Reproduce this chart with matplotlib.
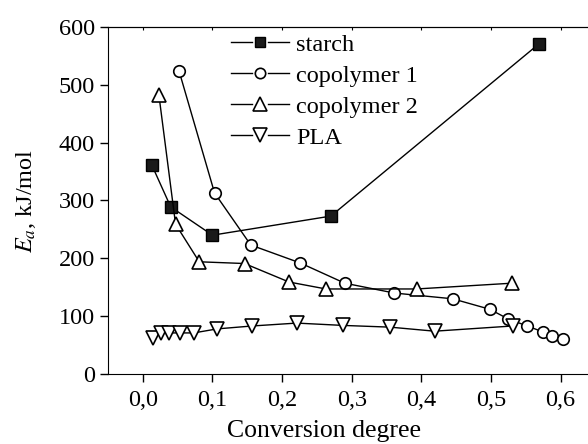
import numpy as np
import matplotlib
matplotlib.use('Agg')
import matplotlib.pyplot as plt
from matplotlib.lines import Line2D
from matplotlib.legend_handler import HandlerLine2D

# data
starch_x = [0.013, 0.040, 0.100, 0.270, 0.569]
starch_y = [361, 289, 240, 273, 571]

cop1_x = [0.052, 0.103, 0.155, 0.226, 0.290, 0.361, 0.445, 0.498, 0.525, 0.552, 0.574, 0.588, 0.603]
cop1_y = [524, 313, 223, 192, 157, 140, 130, 112, 95, 83, 73, 66, 60]

cop2_x = [0.023, 0.047, 0.081, 0.146, 0.210, 0.263, 0.393, 0.530]
cop2_y = [483, 259, 194, 191, 159, 147, 147, 157]

pla_x = [0.014, 0.026, 0.038, 0.054, 0.073, 0.107, 0.157, 0.221, 0.287, 0.355, 0.419, 0.531]
pla_y = [62, 71, 71, 71, 71, 78, 83, 88, 84, 81, 74, 83]

xticks = [0.0, 0.1, 0.2, 0.3, 0.4, 0.5, 0.6]
xticklabels = ['0,0', '0,1', '0,2', '0,3', '0,4', '0,5', '0,6']
yticks = [0, 100, 200, 300, 400, 500, 600]


# legend handle "—■—": two short dashes with the marker between them
class GapHandler(HandlerLine2D):
    def create_artists(self, legend, orig_handle, xdescent, ydescent, width, height, fontsize, trans):
        y = (height - ydescent) / 2
        x0 = -xdescent
        x1 = width - xdescent
        mid = (x0 + x1) / 2
        gap = width * 0.13
        left = Line2D([x0, mid - gap], [y, y], color='black', lw=1)
        right = Line2D([mid + gap, x1], [y, y], color='black', lw=1)
        mark = Line2D([mid], [y], linestyle='none', marker=orig_handle.get_marker(),
                      ms=orig_handle.get_markersize() * legend.markerscale,
                      mfc=orig_handle.get_markerfacecolor(), mec='black',
                      mew=orig_handle.get_markeredgewidth())
        for a in (left, right, mark):
            a.set_transform(trans)
        return [left, right, mark]


plt.rcParams['font.family'] = ['Liberation Serif', 'DejaVu Serif']
plt.rcParams['mathtext.fontset'] = 'stix'

fig = plt.figure(figsize=(5.88, 4.44), dpi=100)
ax = fig.add_axes([0.1837, 0.1577, 0.829, 0.7815])

ax.plot(starch_x, starch_y, '-s', color='black', mfc='#1a1a1a', ms=8, lw=1, label='starch')
ax.plot(cop1_x, cop1_y, '-o', color='black', mfc='white', ms=8.3, mew=1.2, lw=1, label='copolymer 1')
ax.plot(cop2_x, cop2_y, '-^', color='black', mfc='white', ms=10.5, mew=1.2, lw=1, label='copolymer 2')
ax.plot(pla_x, pla_y, '-v', color='black', mfc='white', ms=10.5, mew=1.2, lw=1, label='PLA')

ax.set_xlim(-0.05, 0.65)
ax.set_ylim(0, 600)
ax.set_xticks(xticks)
ax.set_xticklabels(xticklabels)
ax.set_yticks(yticks)
ax.tick_params(labelsize=17.5, direction='out', length=6, width=1)
ax.tick_params(axis='x', pad=5.5)
ax.spines['right'].set_visible(False)

# small inward ticks along the top edge
top = ax.secondary_xaxis('top')
top.set_xticks(xticks)
top.tick_params(direction='in', length=2, labeltop=False)

ax.set_xlabel('Conversion degree', fontsize=18.5)
ax.xaxis.set_label_coords(0.443, -0.133)
ax.set_ylabel(r'$E_a$, kJ/mol', fontsize=17.5, labelpad=15)

leg = ax.legend(loc='upper left', bbox_to_anchor=(0.232, 1.008), frameon=False,
                fontsize=17.5, markerscale=0.9, handlelength=2.4, handletextpad=0.3,
                labelspacing=0.37, borderaxespad=0,
                handler_map={Line2D: GapHandler()})

plt.savefig('out.png', dpi=100)
